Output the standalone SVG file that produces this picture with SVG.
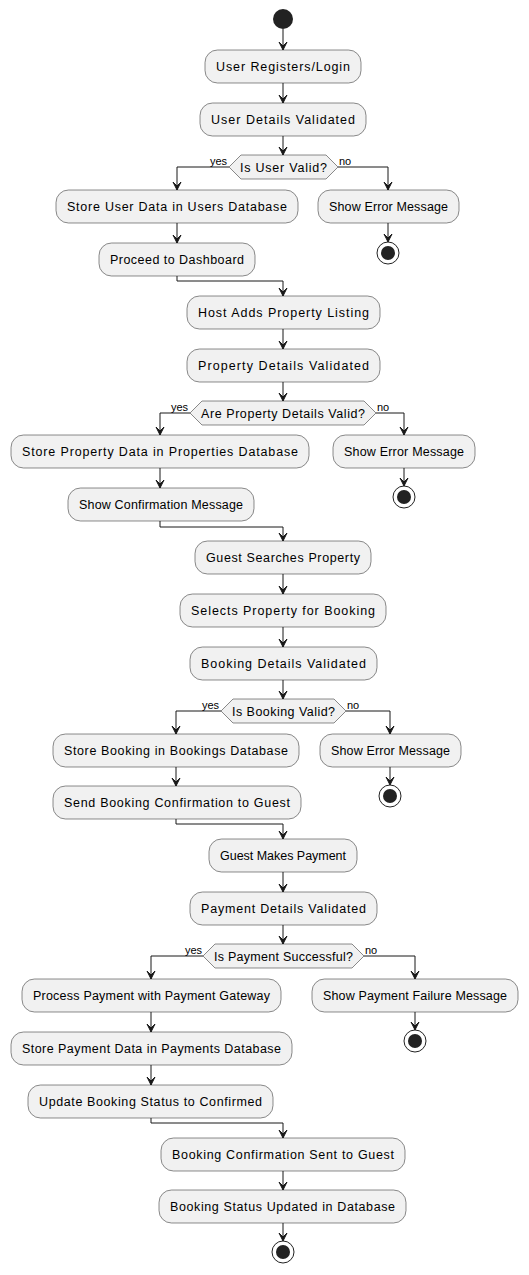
<svg xmlns="http://www.w3.org/2000/svg" width="529" height="1275" viewBox="0 0 529 1275">
<style>
.act rect{fill:#F1F1F1;stroke:#181818;stroke-width:0.5}
.act text,.dec text{font-family:"Liberation Sans",Arial,sans-serif;font-size:12.5px;fill:#000;text-anchor:middle}
.dec polygon{fill:#F1F1F1;stroke:#181818;stroke-width:0.5}
.lbl{font-family:"Liberation Sans",Arial,sans-serif;font-size:11px;fill:#000}
.conn path{fill:none;stroke:#181818;stroke-width:1}
.start{fill:#222222}
.endo{fill:none;stroke:#222222;stroke-width:1}
.endi{fill:#222222}
</style>
<defs>
<marker id="ah" markerUnits="userSpaceOnUse" markerWidth="12" markerHeight="12" viewBox="-1 -6 12 12" refX="10" refY="0" orient="auto">
<path d="M2,-4 L10,0 L2,4 L6,0 Z" fill="#181818" stroke="#181818" stroke-width="1"/>
</marker>
</defs>

<g id="connectors" class="conn">
<path d="M283,29 V50" marker-end="url(#ah)"/>
<path d="M283,83 V103" marker-end="url(#ah)"/>
<path d="M283,136 V155" marker-end="url(#ah)"/>
<path d="M229,167 H177 V190" marker-end="url(#ah)"/>
<path d="M338,167 H388 V190" marker-end="url(#ah)"/>
<path d="M388,223 V242" marker-end="url(#ah)"/>
<path d="M177,223 V243" marker-end="url(#ah)"/>
<path d="M177,276 V281 H283 V296" marker-end="url(#ah)"/>
<path d="M283,329 V349" marker-end="url(#ah)"/>
<path d="M283,382 V401" marker-end="url(#ah)"/>
<path d="M190,413 H160 V435" marker-end="url(#ah)"/>
<path d="M376,413 H404 V435" marker-end="url(#ah)"/>
<path d="M404,468 V486" marker-end="url(#ah)"/>
<path d="M160,468 V488" marker-end="url(#ah)"/>
<path d="M160,521 V527 H283 V541" marker-end="url(#ah)"/>
<path d="M283,574 V594" marker-end="url(#ah)"/>
<path d="M283,627 V647" marker-end="url(#ah)"/>
<path d="M283,680 V699" marker-end="url(#ah)"/>
<path d="M221,711 H176 V734" marker-end="url(#ah)"/>
<path d="M346,711 H390 V734" marker-end="url(#ah)"/>
<path d="M390,767 V785" marker-end="url(#ah)"/>
<path d="M176,767 V786" marker-end="url(#ah)"/>
<path d="M176,819 V824 H283 V839" marker-end="url(#ah)"/>
<path d="M283,872 V892" marker-end="url(#ah)"/>
<path d="M283,925 V944" marker-end="url(#ah)"/>
<path d="M203,956 H151 V979" marker-end="url(#ah)"/>
<path d="M364,956 H415 V979" marker-end="url(#ah)"/>
<path d="M415,1012 V1030" marker-end="url(#ah)"/>
<path d="M151,1012 V1032" marker-end="url(#ah)"/>
<path d="M151,1065 V1085" marker-end="url(#ah)"/>
<path d="M151,1118 V1123 H283 V1138" marker-end="url(#ah)"/>
<path d="M283,1171 V1190" marker-end="url(#ah)"/>
<path d="M283,1223 V1241" marker-end="url(#ah)"/>
</g>

<g id="start"><circle class="start" cx="283" cy="19" r="10"/></g>

<g id="n1" class="act"><rect x="205" y="50" width="156" height="33" rx="12.5"/><text x="283" y="71" textLength="134" lengthAdjust="spacing">User Registers/Login</text></g>
<g id="n2" class="act"><rect x="200" y="103" width="166" height="33" rx="12.5"/><text x="283" y="124" textLength="144" lengthAdjust="spacing">User Details Validated</text></g>
<g id="d1" class="dec"><polygon points="229,167 241,155 326,155 338,167 326,179 241,179"/><text x="283.5" y="171.5" textLength="87" lengthAdjust="spacing">Is User Valid?</text></g>
<text class="lbl" x="210" y="165">yes</text>
<text class="lbl" x="339" y="165">no</text>
<g id="n3" class="act"><rect x="56" y="190" width="242" height="33" rx="12.5"/><text x="177" y="211" textLength="220" lengthAdjust="spacing">Store User Data in Users Database</text></g>
<g id="n4" class="act"><rect x="318" y="190" width="141" height="33" rx="12.5"/><text x="388.5" y="211" textLength="119" lengthAdjust="spacing">Show Error Message</text></g>
<g id="e1"><circle class="endo" cx="388" cy="253" r="11"/><circle class="endi" cx="388" cy="253" r="7"/></g>
<g id="n5" class="act"><rect x="99" y="243" width="156" height="33" rx="12.5"/><text x="177" y="264" textLength="134" lengthAdjust="spacing">Proceed to Dashboard</text></g>
<g id="n6" class="act"><rect x="187" y="296" width="193" height="33" rx="12.5"/><text x="283.5" y="317" textLength="171" lengthAdjust="spacing">Host Adds Property Listing</text></g>
<g id="n7" class="act"><rect x="187" y="349" width="193" height="33" rx="12.5"/><text x="283.5" y="370" textLength="171" lengthAdjust="spacing">Property Details Validated</text></g>
<g id="d2" class="dec"><polygon points="190,413 202,401 364,401 376,413 364,425 202,425"/><text x="283" y="417.5" textLength="164" lengthAdjust="spacing">Are Property Details Valid?</text></g>
<text class="lbl" x="171" y="411">yes</text>
<text class="lbl" x="377" y="411">no</text>
<g id="n8" class="act"><rect x="11" y="435" width="298" height="33" rx="12.5"/><text x="160" y="456" textLength="276" lengthAdjust="spacing">Store Property Data in Properties Database</text></g>
<g id="n9" class="act"><rect x="333" y="435" width="142" height="33" rx="12.5"/><text x="404" y="456" textLength="120" lengthAdjust="spacing">Show Error Message</text></g>
<g id="e2"><circle class="endo" cx="404" cy="497" r="11"/><circle class="endi" cx="404" cy="497" r="7"/></g>
<g id="n10" class="act"><rect x="68" y="488" width="186" height="33" rx="12.5"/><text x="161" y="509" textLength="164" lengthAdjust="spacing">Show Confirmation Message</text></g>
<g id="n11" class="act"><rect x="195" y="541" width="176" height="33" rx="12.5"/><text x="283" y="562" textLength="154" lengthAdjust="spacing">Guest Searches Property</text></g>
<g id="n12" class="act"><rect x="180" y="594" width="206" height="33" rx="12.5"/><text x="283" y="615" textLength="184" lengthAdjust="spacing">Selects Property for Booking</text></g>
<g id="n13" class="act"><rect x="190" y="647" width="187" height="33" rx="12.5"/><text x="283.5" y="668" textLength="165" lengthAdjust="spacing">Booking Details Validated</text></g>
<g id="d3" class="dec"><polygon points="221,711 233,699 334,699 346,711 334,723 233,723"/><text x="283.5" y="715.5" textLength="103" lengthAdjust="spacing">Is Booking Valid?</text></g>
<text class="lbl" x="202" y="709">yes</text>
<text class="lbl" x="347" y="709">no</text>
<g id="n14" class="act"><rect x="53" y="734" width="246" height="33" rx="12.5"/><text x="176" y="755" textLength="224" lengthAdjust="spacing">Store Booking in Bookings Database</text></g>
<g id="n15" class="act"><rect x="320" y="734" width="141" height="33" rx="12.5"/><text x="390.5" y="755" textLength="119" lengthAdjust="spacing">Show Error Message</text></g>
<g id="e3"><circle class="endo" cx="390" cy="796" r="11"/><circle class="endi" cx="390" cy="796" r="7"/></g>
<g id="n16" class="act"><rect x="53" y="786" width="248" height="33" rx="12.5"/><text x="177" y="807" textLength="226" lengthAdjust="spacing">Send Booking Confirmation to Guest</text></g>
<g id="n17" class="act"><rect x="209" y="839" width="148" height="33" rx="12.5"/><text x="283" y="860" textLength="126" lengthAdjust="spacing">Guest Makes Payment</text></g>
<g id="n18" class="act"><rect x="190" y="892" width="187" height="33" rx="12.5"/><text x="283.5" y="913" textLength="165" lengthAdjust="spacing">Payment Details Validated</text></g>
<g id="d4" class="dec"><polygon points="203,956 215,944 352,944 364,956 352,968 215,968"/><text x="283.5" y="960.5" textLength="139" lengthAdjust="spacing">Is Payment Successful?</text></g>
<text class="lbl" x="185" y="954">yes</text>
<text class="lbl" x="365" y="954">no</text>
<g id="n19" class="act"><rect x="22" y="979" width="259" height="33" rx="12.5"/><text x="151.5" y="1000" textLength="237" lengthAdjust="spacing">Process Payment with Payment Gateway</text></g>
<g id="n20" class="act"><rect x="312" y="979" width="206" height="33" rx="12.5"/><text x="415" y="1000" textLength="184" lengthAdjust="spacing">Show Payment Failure Message</text></g>
<g id="e4"><circle class="endo" cx="415" cy="1041" r="11"/><circle class="endi" cx="415" cy="1041" r="7"/></g>
<g id="n21" class="act"><rect x="11" y="1032" width="281" height="33" rx="12.5"/><text x="151.5" y="1053" textLength="259" lengthAdjust="spacing">Store Payment Data in Payments Database</text></g>
<g id="n22" class="act"><rect x="28" y="1085" width="245" height="33" rx="12.5"/><text x="150.5" y="1106" textLength="223" lengthAdjust="spacing">Update Booking Status to Confirmed</text></g>
<g id="n23" class="act"><rect x="161" y="1138" width="244" height="33" rx="12.5"/><text x="283" y="1159" textLength="222" lengthAdjust="spacing">Booking Confirmation Sent to Guest</text></g>
<g id="n24" class="act"><rect x="159" y="1190" width="247" height="33" rx="12.5"/><text x="282.5" y="1211" textLength="225" lengthAdjust="spacing">Booking Status Updated in Database</text></g>
<g id="e5"><circle class="endo" cx="283" cy="1252" r="11"/><circle class="endi" cx="283" cy="1252" r="7"/></g>
</svg>
